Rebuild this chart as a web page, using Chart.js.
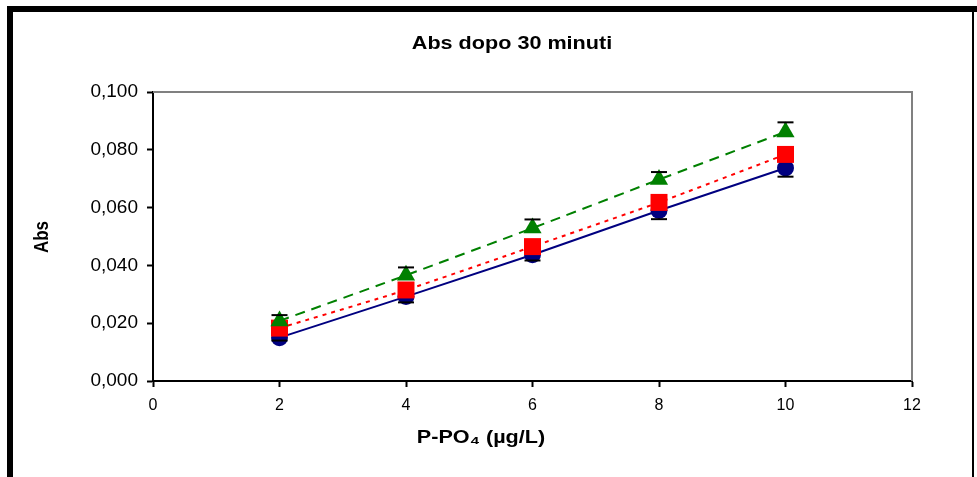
<!DOCTYPE html>
<html lang="it">
<head>
<meta charset="utf-8">
<title>Abs dopo 30 minuti</title>
<script src="https://cdn.jsdelivr.net/npm/chart.js@4.4.1/dist/chart.umd.min.js"></script>
<style>
    html, body { margin: 0; padding: 0; background: #fff; }
    canvas { display: block; }
</style>
</head>
<body>
<canvas id="absChart" width="977" height="477"></canvas>
<script>
// concentrazioni P-PO4 (µg/L)
const concentrazioni = [2, 4, 6, 8, 10];

// Abs
const absBlu = [0.0150, 0.0292, 0.0437, 0.0590, 0.0737];
const absRosso = [0.0183, 0.0315, 0.0465, 0.0618, 0.0784];
const absVerde = [0.0208, 0.0366, 0.0529, 0.0697, 0.0862];

// barre d'errore visibili (verde verso l'alto, blu verso il basso)
const errVerde = [0.0020, 0.0027, 0.0030, 0.0026, 0.0033];
const errBlu = [0.0010, 0.0020, 0.0020, 0.0030, 0.0030];

const xTicks = [0, 2, 4, 6, 8, 10, 12];
const yTicks = [0, 0.02, 0.04, 0.06, 0.08, 0.1];

const titolo = 'Abs dopo 30 minuti';
const titoloX = 'P-PO\u2084 (\u00b5g/L)';
const titoloY = 'Abs';

document.addEventListener('DOMContentLoaded', () => {
    const canvas = document.getElementById('absChart');
    if (!canvas || !window.Chart) {
        return;
    }

    const font = '"Liberation Sans", Arial, sans-serif';

    // cornice nera + bordo grigio dell'area del grafico
    const cornice = {
        id: 'cornice',
        beforeDraw(chart) {
            const ctx = chart.ctx;
            ctx.save();
            ctx.fillStyle = '#fff';
            ctx.fillRect(0, 0, chart.width, chart.height);
            ctx.fillStyle = '#000';
            ctx.fillRect(7, 6, 6, chart.height - 6);
            ctx.fillRect(7, 6, chart.width - 7, 6);
            ctx.fillRect(972, 6, 2, chart.height - 6);
            ctx.restore();
        },
        beforeDatasetsDraw(chart) {
            const { ctx, chartArea: a } = chart;
            ctx.save();
            ctx.strokeStyle = '#808080';
            ctx.lineWidth = 2;
            ctx.beginPath();
            ctx.moveTo(a.left, a.top);
            ctx.lineTo(a.right, a.top);
            ctx.lineTo(a.right, a.bottom);
            ctx.stroke();
            ctx.restore();
        }
    };

    const barre = (chart, fn) => {
        const { ctx, scales: { x, y } } = chart;
        ctx.save();
        ctx.strokeStyle = '#000';
        ctx.lineWidth = 2;
        concentrazioni.forEach((c, i) => {
            const px = x.getPixelForValue(c);
            fn(ctx, px, y.getPixelForValue(absVerde[i]), y.getPixelForValue(absVerde[i] + errVerde[i]));
            fn(ctx, px, y.getPixelForValue(absBlu[i]), y.getPixelForValue(absBlu[i] - errBlu[i]));
        });
        ctx.restore();
    };

    // gambo sotto i marcatori, cappello sopra
    const erroreBarre = {
        id: 'erroreBarre',
        beforeDatasetsDraw(chart) {
            barre(chart, (ctx, px, py0, py1) => {
                ctx.beginPath();
                ctx.moveTo(px, py0);
                ctx.lineTo(px, py1);
                ctx.stroke();
            });
        },
        afterDatasetsDraw(chart) {
            barre(chart, (ctx, px, py0, py1) => {
                ctx.beginPath();
                ctx.moveTo(px - 8, py1);
                ctx.lineTo(px + 8, py1);
                ctx.stroke();
            });
        }
    };

    // testo leggermente allargato come nell'originale
    const scritta = (ctx, testo, x, y, size, rot) => {
        ctx.save();
        ctx.translate(x, y);
        if (rot) ctx.rotate(rot);
        ctx.scale(rot ? 1 : 1.2, rot ? 1.2 : 1);
        ctx.font = 'bold ' + size + 'px ' + font;
        ctx.fillText(testo, 0, 0);
        ctx.restore();
    };

    const testi = {
        id: 'testi',
        afterDraw(chart) {
            const ctx = chart.ctx;
            ctx.save();
            ctx.fillStyle = '#000';
            ctx.textAlign = 'center';
            ctx.textBaseline = 'middle';
            scritta(ctx, titolo, 512, 44, 18);
            scritta(ctx, titoloX, 481, 438, 18);
            scritta(ctx, titoloY, 42, 237, 17, -Math.PI / 2);
            ctx.restore();
        }
    };

    new Chart(canvas.getContext('2d'), {
        type: 'line',
        data: {
            datasets: [
                {
                    label: 'Serie 1',
                    data: concentrazioni.map((c, i) => ({ x: c, y: absBlu[i] })),
                    borderColor: '#000080',
                    backgroundColor: '#000080',
                    borderWidth: 2,
                    tension: 0,
                    pointStyle: 'circle',
                    pointRadius: 8.5,
                    pointBorderWidth: 0,
                    order: 2,
                },
                {
                    label: 'Serie 2',
                    data: concentrazioni.map((c, i) => ({ x: c, y: absRosso[i] })),
                    borderColor: '#ff0000',
                    backgroundColor: '#ff0000',
                    borderWidth: 2,
                    borderDash: [4, 5],
                    tension: 0.2,
                    pointStyle: 'rect',
                    pointRadius: 12,
                    pointBorderWidth: 0,
                    order: 1,
                },
                {
                    label: 'Serie 3',
                    data: concentrazioni.map((c, i) => ({ x: c, y: absVerde[i] })),
                    borderColor: '#008000',
                    backgroundColor: '#008000',
                    borderWidth: 2,
                    borderDash: [10, 7],
                    tension: 0.2,
                    pointStyle: 'triangle',
                    pointRadius: 10.5,
                    pointBorderWidth: 0,
                    order: 0,
                }
            ]
        },
        options: {
            responsive: false,
            animation: false,
            devicePixelRatio: 1,
            layout: {
                padding: { top: 92, right: 65, left: 0, bottom: 0 }
            },
            scales: {
                x: {
                    type: 'linear',
                    min: 0,
                    max: 12,
                    afterBuildTicks: (scale) => {
                        scale.ticks = xTicks.map(v => ({ value: v }));
                    },
                    afterFit: (scale) => {
                        scale.height = 96;
                    },
                    grid: {
                        drawOnChartArea: false,
                        drawTicks: true,
                        tickLength: 6,
                        tickWidth: 2,
                        color: '#000',
                    },
                    border: { color: '#000', width: 2 },
                    ticks: {
                        color: '#000',
                        padding: 9,
                        maxRotation: 0,
                        font: { family: font, size: 16 },
                    }
                },
                y: {
                    type: 'linear',
                    min: 0,
                    max: 0.1,
                    afterBuildTicks: (scale) => {
                        scale.ticks = yTicks.map(v => ({ value: v }));
                    },
                    afterFit: (scale) => {
                        scale.width = 153;
                    },
                    grid: {
                        drawOnChartArea: false,
                        drawTicks: true,
                        tickLength: 6,
                        tickWidth: 2,
                        color: '#000',
                    },
                    border: { color: '#000', width: 2 },
                    ticks: {
                        color: '#000',
                        padding: 9,
                        font: { family: font, size: 19 },
                        callback: (v) => v.toFixed(3).replace('.', ','),
                    }
                }
            },
            plugins: {
                legend: { display: false },
                title: { display: false },
                tooltip: { enabled: true }
            }
        },
        plugins: [cornice, erroreBarre, testi]
    });
});
</script>
</body>
</html>
